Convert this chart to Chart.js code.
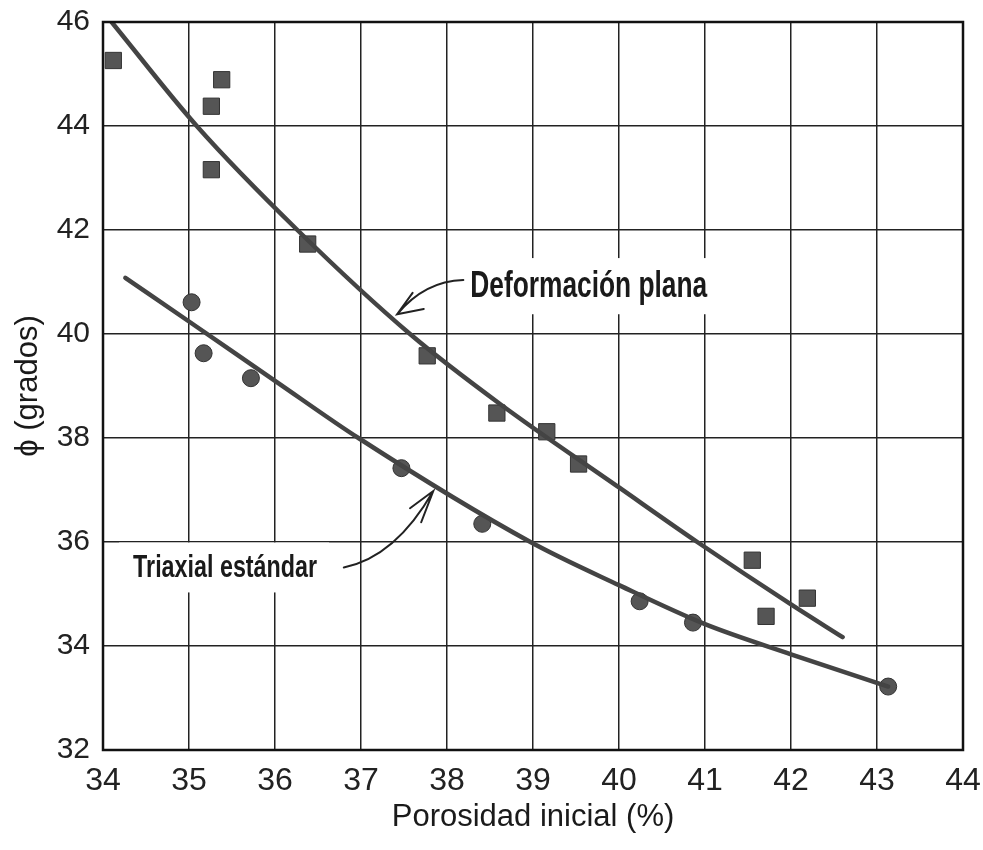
<!DOCTYPE html>
<html>
<head>
<meta charset="utf-8">
<script src="https://cdn.jsdelivr.net/npm/chart.js@4.4.1/dist/chart.umd.min.js"></script>
<style>
  body { margin: 0; background: #fff; }
  #wrap { width: 983px; height: 850px; }
</style>
</head>
<body>
<div id="wrap"><canvas id="chart"></canvas></div>
<script>
const xTicks = [34, 35, 36, 37, 38, 39, 40, 41, 42, 43, 44];
const yTicks = [32, 34, 36, 38, 40, 42, 44, 46];

// Deformación plana: measured points (squares) and fitted curve
const planaX = [34.12, 35.38, 35.26, 35.26, 36.38, 37.77, 38.58, 39.16, 39.53, 41.55, 41.71, 42.19];
const planaY = [45.26, 44.89, 44.38, 43.16, 41.73, 39.58, 38.48, 38.12, 37.5, 35.65, 34.57, 34.92];
const planaCurveX = [34.1, 35.09, 36.26, 37.57, 38.62, 40.0, 40.91, 42.0, 42.6];
const planaCurveY = [46.0, 44.0, 42.0, 40.0, 38.65, 37.05, 36.0, 34.8, 34.17];

// Triaxial estándar: measured points (circles) and fitted curve
const triaxX = [35.03, 35.17, 35.72, 37.47, 38.41, 40.24, 40.86, 43.13];
const triaxY = [40.61, 39.63, 39.15, 37.42, 36.35, 34.86, 34.45, 33.22];
const triaxCurveX = [34.26, 35.0, 36.0, 36.97, 38.97, 40.0, 41.0, 42.0, 43.13];
const triaxCurveY = [41.08, 40.24, 39.1, 38.0, 36.0, 35.17, 34.42, 33.84, 33.22];

// curve labels and their arrows, in data units
const labels = [
  { text: 'Deformación plana', x: 38.27, y: 40.92, size: 36, width: 237 },
  { text: 'Triaxial estándar', x: 34.35, y: 35.51, size: 32, width: 184 },
];
const arrows = [
  { from: [38.19, 41.04], ctrl: [37.74, 41.02], tip: [37.42, 40.38], armA: [37.73, 40.48], armB: [37.6, 40.79] },
  { from: [36.8, 35.51], ctrl: [37.4, 35.71], tip: [37.84, 36.98], armA: [37.57, 36.65], armB: [37.7, 36.38] },
];

const sans = '"Liberation Sans", Arial, Helvetica, sans-serif';
const toPts = (xs, ys) => xs.map((v, i) => ({ x: v, y: ys[i] }));

const extras = {
  id: 'extras',
  beforeDraw(chart) {
    const ctx = chart.ctx;
    ctx.save();
    ctx.fillStyle = '#fff';
    ctx.fillRect(0, 0, chart.width, chart.height);
    ctx.restore();
  },
  beforeDatasetsDraw(chart) {
    // white patches behind the curve labels (they hide the grid)
    const { ctx, scales: { x, y } } = chart;
    ctx.save();
    ctx.fillStyle = '#fff';
    labels.forEach(l => {
      const px = x.getPixelForValue(l.x), py = y.getPixelForValue(l.y);
      ctx.fillRect(px - 14, py - l.size * 0.78, l.width + 26, l.size * 1.56);
    });
    ctx.restore();
  },
  afterDatasetsDraw(chart) {
    const { ctx, chartArea: a, scales: { x, y } } = chart;
    const P = p => [x.getPixelForValue(p[0]), y.getPixelForValue(p[1])];
    ctx.save();
    ctx.strokeStyle = '#111';
    ctx.lineWidth = 2.5;
    ctx.strokeRect(a.left, a.top, a.right - a.left, a.bottom - a.top);

    ctx.strokeStyle = '#222';
    ctx.lineWidth = 2;
    ctx.lineCap = 'round';
    arrows.forEach(ar => {
      const f = P(ar.from), c = P(ar.ctrl), t = P(ar.tip), aa = P(ar.armA), ab = P(ar.armB);
      ctx.beginPath();
      ctx.moveTo(f[0], f[1]);
      ctx.quadraticCurveTo(c[0], c[1], t[0], t[1]);
      ctx.moveTo(aa[0], aa[1]);
      ctx.lineTo(t[0], t[1]);
      ctx.lineTo(ab[0], ab[1]);
      ctx.stroke();
    });

    // condensed look: squeeze the bold face to the measured width
    labels.forEach(l => {
      ctx.save();
      ctx.font = `bold ${l.size}px ${sans}`;
      const sx = l.width / ctx.measureText(l.text).width;
      ctx.translate(x.getPixelForValue(l.x), y.getPixelForValue(l.y));
      ctx.scale(sx, 1);
      ctx.textAlign = 'left';
      ctx.textBaseline = 'middle';
      ctx.fillStyle = '#1a1a1a';
      ctx.fillText(l.text, 0, 1);
      ctx.restore();
    });
    ctx.restore();
  }
};

new Chart(document.getElementById('chart'), {
  type: 'scatter',
  data: {
    datasets: [
      {
        data: toPts(planaCurveX, planaCurveY),
        showLine: true, pointRadius: 0, borderColor: '#444', borderWidth: 4.5,
        cubicInterpolationMode: 'monotone', borderCapStyle: 'round', fill: false,
      },
      {
        data: toPts(triaxCurveX, triaxCurveY),
        showLine: true, pointRadius: 0, borderColor: '#444', borderWidth: 4.5,
        cubicInterpolationMode: 'monotone', borderCapStyle: 'round', fill: false,
      },
      {
        data: toPts(planaX, planaY),
        pointStyle: 'rect', pointRadius: 11.5,
        backgroundColor: '#555', borderColor: '#333', borderWidth: 1,
      },
      {
        data: toPts(triaxX, triaxY),
        pointStyle: 'circle', pointRadius: 8.5,
        backgroundColor: '#555', borderColor: '#333', borderWidth: 1,
      },
    ],
  },
  options: {
    responsive: true,
    maintainAspectRatio: false,
    animation: false,
    layout: { padding: { top: 22, right: 20, left: 0, bottom: 0 } },
    plugins: { legend: { display: false }, tooltip: { enabled: false } },
    scales: {
      x: {
        type: 'linear', min: 34, max: 44,
        afterBuildTicks: s => { s.ticks = xTicks.map(v => ({ value: v })); },
        afterFit: s => { s.height = 100; s.paddingLeft = 0; s.paddingRight = 0; },
        grid: { color: '#222', lineWidth: 1.5, drawTicks: false },
        border: { display: false },
        ticks: { color: '#222', padding: 12, font: { family: sans, size: 32 } },
        title: {
          display: true, text: 'Porosidad inicial (%)', color: '#1a1a1a',
          font: { family: sans, size: 31 }, padding: { top: 0, bottom: 14 },
        },
      },
      y: {
        type: 'linear', min: 32, max: 46,
        afterBuildTicks: s => { s.ticks = yTicks.map(v => ({ value: v })); },
        afterFit: s => { s.width = 103; s.paddingTop = 0; s.paddingBottom = 0; },
        grid: { color: '#222', lineWidth: 1.5, drawTicks: false },
        border: { display: false },
        ticks: { color: '#222', padding: 13, font: { family: sans, size: 30 } },
        title: {
          display: true, text: 'ϕ (grados)', color: '#1a1a1a',
          font: { family: sans, size: 31 }, padding: { top: 10, bottom: 0 },
        },
      },
    },
  },
  plugins: [extras],
});
</script>
</body>
</html>
